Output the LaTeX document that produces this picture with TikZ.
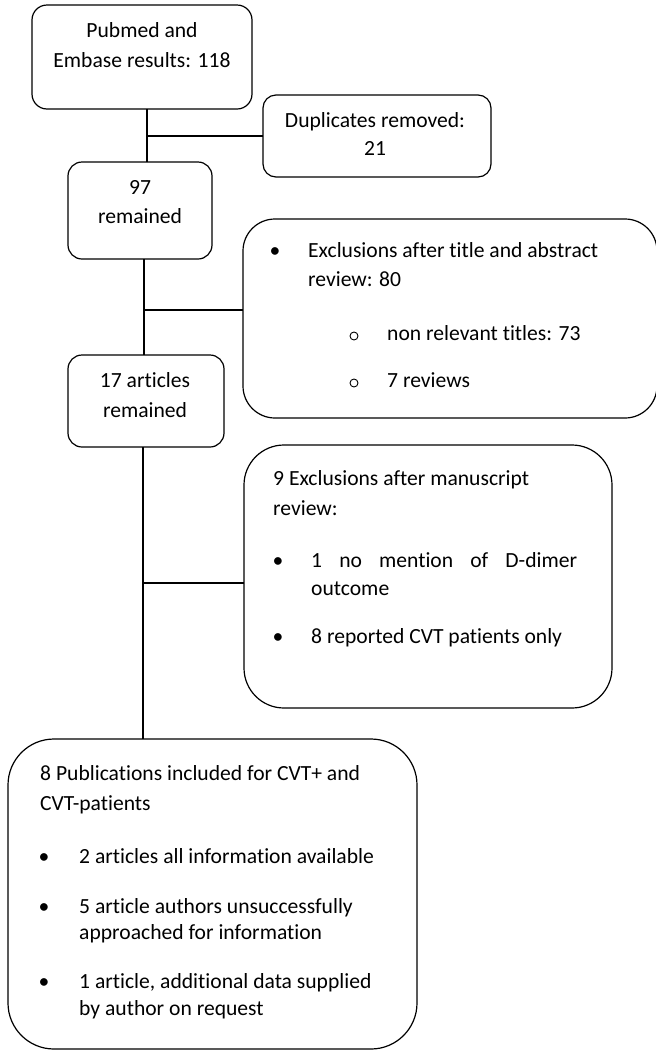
\documentclass[tikz,border=0pt]{standalone}
\usepackage{fontspec}
\setmainfont{Carlito}[Ligatures=NoCommon]
\begin{document}
\begin{tikzpicture}[x=1pt,y=-1pt,
  box/.style={draw=black, line width=1.2pt, anchor=north west, outer sep=0pt, inner sep=0pt},
  conn/.style={draw=black, line width=1.2pt},
  txt/.style={inner sep=0pt, anchor=base, font=\fontsize{21.6}{29.5}\selectfont},
  ltxt/.style={inner sep=0pt, anchor=base west, font=\fontsize{21.6}{29.5}\selectfont},
  subbul/.style={draw=black, circle, line width=0.9pt, minimum size=8pt, inner sep=0pt}]
\useasboundingbox (0,0) rectangle (656,1050);

% boxes
\node[box, rounded corners=15pt, minimum width=220pt, minimum height=104pt] (pub) at (32,5) {};
\node[box, rounded corners=13pt, minimum width=228pt, minimum height=82pt] (dup) at (263,95) {};
\node[box, rounded corners=14pt, minimum width=144pt, minimum height=97pt] (b97) at (68,162) {};
\node[box, rounded corners=32pt, minimum width=414pt, minimum height=199pt] (exc1) at (243,219) {};
\node[box, rounded corners=14pt, minimum width=156pt, minimum height=92pt] (d17) at (68,355) {};
\node[box, rounded corners=40pt, minimum width=368pt, minimum height=263pt] (exc2) at (244,445) {};
\node[box, rounded corners=46pt, minimum width=409pt, minimum height=310pt] (pubs) at (8,739) {};

% connectors
\coordinate (j1) at (147,136);
\coordinate (j2) at (144,310);
\coordinate (j3) at (143,583);
\draw[conn] (pub.south -| j1) -- (b97.north -| j1);
\draw[conn] (j1) -- (dup.west |- j1);
\draw[conn] (b97.south -| j2) -- (d17.north -| j2);
\draw[conn] (j2) -- (exc1.west |- j2);
\draw[conn] (d17.south -| j3) -- (pubs.north -| j3);
\draw[conn] (j3) -- (exc2.west |- j3);

% texts
\node[txt] (t1) at (142,37.5) {Pubmed and};
\node[txt] (t2) at (142,67.5) {Embase results: 118};
\node[txt] (t3) at (375,127) {Duplicates removed:};
\node[txt] (t4) at (375,155) {21};
\node[txt] (t5) at (140,194) {97};
\node[txt] (t6) at (140,223.5) {remained};

\node[txt] (b1) at (275,257) {•};
\node[ltxt] (t7) at (308,257) {Exclusions after title and abstract};
\node[ltxt] (t8) at (308,286) {review: 80};
\node[subbul] (s1) at (354,336) {};
\node[ltxt] (t9) at (387,340) {non relevant titles: 73};
\node[subbul] (s2) at (354,383) {};
\node[ltxt] (t10) at (387,387) {7 reviews};

\node[txt] (t11) at (145,387) {17 articles};
\node[txt] (t12) at (145,417) {remained};

\node[ltxt] (t13) at (273,485) {9 Exclusions after manuscript};
\node[ltxt] (t14) at (273,515) {review:};
\node[txt] (b2) at (278,567) {•};
\node[ltxt] (t15) at (311,567) {\makebox[266pt][s]{1 no mention of D-dimer}};
\node[ltxt] (t16) at (311,595) {outcome};
\node[txt] (b3) at (278,643) {•};
\node[ltxt] (t17) at (311,643) {8 reported CVT patients only};

\node[ltxt] (t18) at (40,780) {8 Publications included for CVT+ and};
\node[ltxt] (t19) at (40,810) {CVT-patients};
\node[txt] (b4) at (44,863) {•};
\node[ltxt] (t20) at (79,863) {2 articles all information available};
\node[txt] (b5) at (44,913) {•};
\node[ltxt] (t21) at (79,913) {5 article authors unsuccessfully};
\node[ltxt] (t22) at (79,939) {approached for information};
\node[txt] (b6) at (44,988) {•};
\node[ltxt] (t23) at (79,988) {1 article, additional data supplied};
\node[ltxt] (t24) at (79,1015) {by author on request};
\end{tikzpicture}
\end{document}
